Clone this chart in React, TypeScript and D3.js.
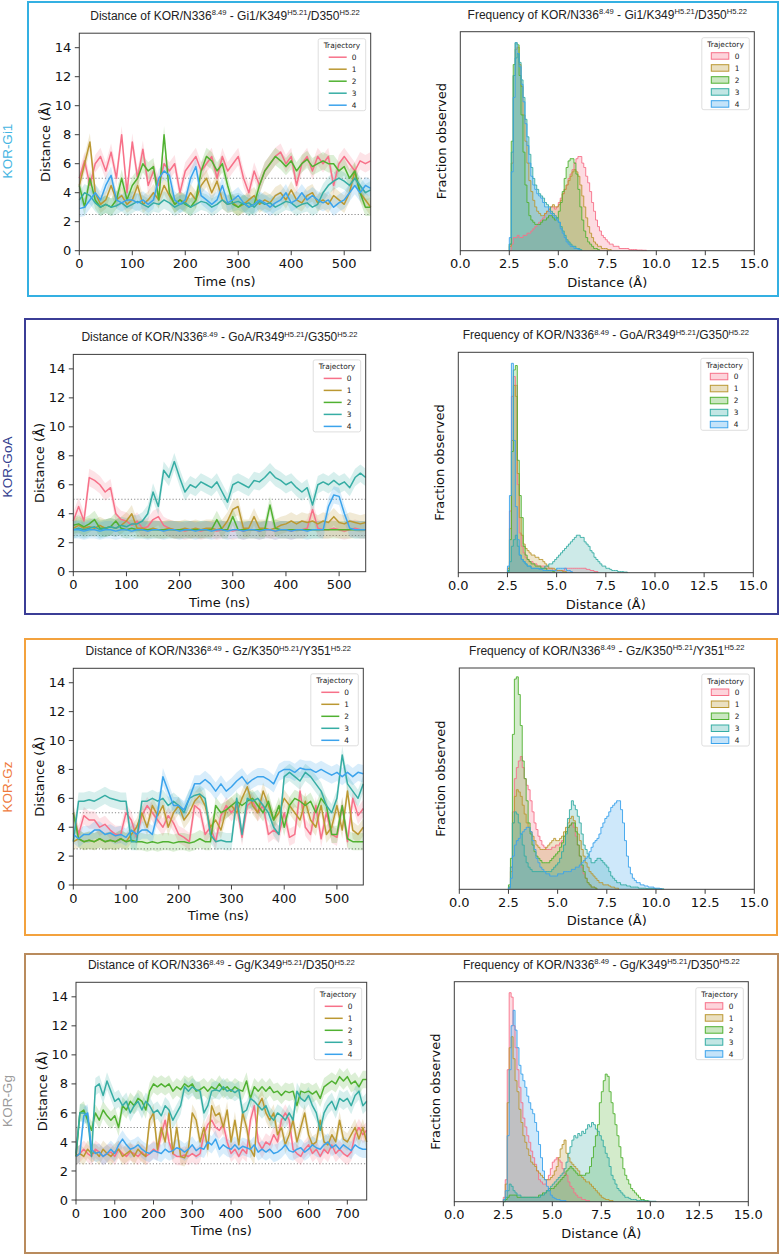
import React from 'react';
import * as d3 from 'd3';

// ---------------- shared categories / ticks ----------------
const TRAJECTORIES = ['0', '1', '2', '3', '4'];
const COLORS = ['#f77189', '#bb9832', '#50b131', '#36ada4', '#3ba3ec'];
const TIME_STEP = 10; // ns between samples
const HIST_START = 2.5; // Å, left edge of first bin
const HIST_BIN = 0.1; // Å bin width
const DIST_TICKS = [0, 2, 4, 6, 8, 10, 12, 14];
const HIST_TICKS = [0, 2.5, 5, 7.5, 10, 12.5, 15];
const TIME_TICKS_550 = [0, 100, 200, 300, 400, 500];
const TIME_TICKS_750 = [0, 100, 200, 300, 400, 500, 600, 700];
const REF_LINES = [2.5, 5.0];
const BAND = 0.6; // half-width of the confidence band (Å)

// ---------------- KOR-Gi1 ----------------
const GI1_TS = [
  [5.0,6.2,4.5,6.0,6.5,5.5,6.8,5.0,8.0,4.0, 7.5,5.0,7.0,4.5,5.5,4.5,6.0,5.5,6.0,4.0, 5.5,6.0,6.5,5.5,6.0,6.5,5.0,6.5,5.5,6.0, 6.5,5.0,4.0,5.5,4.5,5.5,6.0,6.5,6.8,6.0, 6.5,4.5,6.0,6.5,5.5,6.5,6.0,6.5,4.5,6.0, 6.5,6.0,5.5,6.2,6.0,6.2],
  [4.5,6.0,7.5,4.0,3.2,3.5,4.5,3.5,3.8,3.2, 3.5,4.5,3.2,3.5,4.0,3.5,4.5,3.8,3.2,3.5, 3.3,4.0,3.5,4.5,5.0,4.0,4.8,3.5,3.2,3.3, 3.0,3.2,3.5,3.8,3.2,3.5,3.3,3.8,4.0,3.5, 4.2,3.5,3.3,3.8,4.0,3.3,3.5,3.2,3.8,3.5, 3.2,4.0,5.5,4.0,3.5,3.0],
  [4.5,3.0,5.0,3.5,3.0,3.2,3.0,3.5,5.0,3.5, 4.5,5.0,6.0,5.5,5.8,3.5,8.0,4.0,3.2,3.5, 3.2,3.0,3.5,5.5,6.5,6.2,5.5,6.0,4.5,3.2, 3.0,3.3,3.0,3.2,4.5,5.5,6.0,6.5,6.2,5.8, 6.2,5.5,6.0,6.3,5.8,6.0,6.2,6.0,6.0,5.5, 5.8,5.0,5.5,4.0,3.0,3.0],
  [3.5,4.0,3.8,3.3,3.0,3.2,3.0,3.1,3.3,3.0, 3.2,3.4,3.2,3.0,3.3,3.2,3.5,3.3,3.0,3.2, 3.3,3.0,3.2,3.4,3.3,3.0,3.2,3.5,3.2,3.3, 3.4,3.2,3.3,3.0,3.4,3.2,3.3,3.0,3.2,3.4, 3.3,3.0,3.2,3.3,3.0,3.2,4.0,4.5,4.8,5.0, 4.8,4.5,5.0,4.5,4.0,4.2],
  [2.9,3.0,3.5,4.0,3.5,4.5,5.2,3.5,3.3,3.5, 3.5,3.3,3.5,3.2,3.5,5.0,5.5,5.2,3.5,3.2, 3.5,5.0,5.8,3.8,3.5,3.2,3.5,4.5,3.3,3.5, 3.8,3.3,3.0,3.2,3.5,3.3,3.0,3.3,3.5,4.0, 3.3,3.5,4.0,3.5,3.8,3.5,3.3,3.5,3.0,3.3, 3.5,4.0,4.5,4.0,4.5,4.3],
];
const GI1_HIST = [
  [0,3,6,6,7,6,6,7,7,8, 8,9,10,11,12,13,14,15,17,18, 19,20,20,19,20,22,24,26,28,30, 33,35,37,40,42,43,43,40,38,34, 31,27,22,18,14,11,9,7,6,5, 4,3,3,2,2,2,1,1,1,1, 1,0.5,0.5,0.5,0.5,0.3,0.3,0.3,0.2,0.2],
  [2,40,80,92,93,85,75,62,50,40, 32,27,23,20,18,17,16,16,17,18, 19,20,21,20,20,21,23,26,28,30, 32,34,36,37,36,34,30,25,20,15, 11,8,6,4,3,2,2,1,1,1, 0.5,0.5],
  [3,50,85,95,94,80,62,45,30,22, 16,14,13,12,12,12,13,14,14,15, 16,16,15,14,15,18,22,27,33,38, 41,42,42,40,35,28,20,14,9,6, 4,3,2,1,1,0.5],
  [3,45,80,88,90,86,78,70,60,52, 44,38,33,30,28,26,25,24,22,21, 20,18,17,16,15,13,11,9,7,5, 4,3,2,2,1,1,0.5],
  [6,36,70,95,90,84,76,68,58,48, 40,34,30,28,26,25,24,22,20,20, 18,17,16,15,14,13,10,8,6,4, 3,2,2,1,1,0.5],
];

// ---------------- KOR-GoA ----------------
const GOA_TS = [
  [3.5,4.5,3.5,6.5,6.3,6.0,5.5,5.8,4.0,3.6, 3.5,3.2,3.5,3.0,3.1,3.6,3.8,3.2,3.0,2.9, 2.9,2.8,2.9,2.9,2.8,2.9,2.9,2.8,2.9,2.9, 2.8,2.9,2.8,2.9,2.9,2.8,2.9,2.9,2.8,2.9, 2.9,2.8,2.9,2.9,3.0,4.3,3.0,2.9,2.9,3.0, 2.9,2.8,2.9,3.0,2.9,2.9],
  [3.0,3.2,3.0,3.1,3.0,3.2,3.0,3.1,3.0,3.2, 3.5,4.0,3.0,3.0,2.9,3.0,2.9,2.9,3.0,2.9, 2.9,3.0,2.9,3.0,2.9,3.0,3.0,2.9,3.0,3.5, 4.3,4.5,3.0,3.0,3.8,3.0,3.0,2.9,3.0,3.2, 3.3,3.5,3.3,3.5,3.4,3.5,3.3,3.5,3.4,3.8, 3.4,3.3,3.5,3.4,3.3,3.4],
  [3.2,3.3,3.1,3.3,3.6,3.0,3.0,3.1,3.5,3.0, 2.9,3.0,2.9,2.9,2.9,2.9,2.9,2.9,2.9,2.9, 2.9,2.9,2.9,2.9,2.9,2.9,2.9,3.6,2.9,2.9, 3.8,2.9,2.9,2.9,2.9,2.9,2.9,4.6,3.0,2.9, 2.9,2.9,2.9,2.9,2.9,2.9,2.9,2.9,2.9,2.9, 2.9,2.9,2.9,2.9,2.9,2.9],
  [2.9,3.0,2.9,3.0,3.1,2.9,3.0,3.1,3.0,3.2, 3.1,3.3,3.3,3.5,4.0,5.5,4.5,7.0,6.5,7.6, 6.5,5.5,6.0,5.8,6.2,6.0,5.8,6.2,5.5,4.8, 6.0,6.2,6.0,5.8,6.3,6.2,6.5,6.9,6.5,6.3, 6.0,6.2,5.8,5.5,5.8,4.6,6.0,6.2,6.0,6.3, 6.0,6.2,5.8,6.5,6.8,6.5],
  [2.9,2.9,2.8,2.9,2.9,2.8,2.9,2.9,2.8,2.9, 2.9,2.8,2.9,2.9,2.8,2.9,2.9,2.8,2.9,2.9, 2.8,2.9,2.9,2.8,2.9,2.9,2.8,2.9,2.9,2.8, 2.9,2.9,2.8,2.9,2.9,2.8,2.9,2.9,2.8,2.9, 2.9,2.8,2.9,2.9,2.8,2.9,2.9,2.9,4.5,5.3, 5.2,4.0,3.0,2.9,2.9,2.9],
];
const GOA_HIST = [
  [2,28,80,89,85,40,18,12,9,7, 6,5,5,4,4,3,3,3,3,2, 2,2,2,1,1,1,1,1,1,2, 2,2,2,2,2,2,2,2,2,2, 1.5,1.5,1,1,0.5,0.5],
  [2,20,60,85,80,45,25,17,13,11, 10,9,8,8,7,7,6,6,5,4, 3,2,2,2,1.5,1,1,1,0.5,0.5],
  [1,15,55,92,94,51,35,25,12,8, 6,5,4,4,3,3,3,2,2,2, 1,1,1,0.5],
  [0.5,5,12,15,17,12,8,6,5,4, 3,3,2,2,2,2,2,2,2,3, 3,4,4,5,6,7,8,9,10,11, 12,13,14,15,16,17,17,16,16,14, 13,12,10,9,7,6,5,4,3,3, 2,2,1.5,1,1,1,0.5,0.5,0.5,0.3, 0.3],
  [3,35,95,60,30,15,8,6,5,4, 3,3,2,2,2,2,1.5,1.5,1,1, 1,1,1,1,1,2,2,2,2,2, 1,1,0.5],
];

// ---------------- KOR-Gz ----------------
const GZ_TS = [
  [5.0,3.5,4.8,4.5,4.5,4.0,4.2,3.8,3.5,3.5, 5.0,4.5,3.3,4.8,5.5,5.0,4.5,4.0,4.8,4.3, 3.5,3.3,3.0,5.5,5.2,3.5,4.0,3.0,4.8,5.5, 5.0,5.5,3.3,5.5,5.8,5.0,5.5,3.5,3.8,3.5, 5.0,3.3,3.5,6.5,4.0,3.5,5.5,3.2,5.0,3.5, 3.3,5.5,3.0,6.0,4.8,5.3],
  [3.0,3.2,3.0,3.1,3.0,3.2,3.0,3.1,3.0,3.2, 3.0,3.5,4.0,5.0,4.0,5.5,4.8,5.5,4.0,5.0, 5.5,4.5,5.0,5.8,6.2,5.5,4.0,4.5,3.8,5.2, 5.5,5.0,6.0,6.8,5.5,5.0,6.5,5.5,4.5,5.0, 6.0,5.5,5.0,4.5,5.8,4.5,4.0,5.5,3.5,4.0, 5.5,3.8,6.5,3.8,3.5,4.0],
  [5.0,3.2,3.0,3.1,3.0,3.2,3.0,3.1,3.0,3.2, 3.0,3.1,3.0,3.0,2.9,3.0,2.9,3.0,3.0,2.9, 3.0,3.0,2.9,3.0,3.2,3.0,3.0,5.5,5.0,5.2, 5.5,5.8,5.5,5.8,6.0,5.5,5.0,5.8,4.5,5.5, 4.0,5.5,6.0,5.8,5.5,5.8,5.0,6.0,5.5,3.5, 3.5,5.5,3.2,3.0,3.0,3.0],
  [3.0,5.8,5.8,5.9,5.8,6.0,6.2,6.0,5.9,5.8, 5.8,3.0,3.0,5.8,5.8,6.0,5.8,6.0,5.5,5.8, 5.5,5.0,6.0,6.2,6.3,6.0,3.5,3.0,3.1,3.0, 3.0,6.0,3.5,6.0,5.8,6.0,5.5,5.0,4.0,3.5, 7.5,7.8,7.5,7.2,7.8,7.5,7.0,6.5,5.5,5.0, 6.0,9.0,7.0,6.5,6.0,7.0],
  [3.5,3.2,3.5,3.5,3.8,3.8,3.5,3.6,3.4,3.5, 3.3,3.8,3.5,3.8,3.8,3.5,5.0,7.5,6.5,5.5, 5.5,5.2,6.0,7.0,7.0,7.3,7.0,6.5,7.0,6.5, 6.8,7.2,7.5,7.0,7.3,7.5,7.5,7.3,7.0,7.8, 8.0,8.0,7.8,8.1,8.0,8.0,7.8,8.0,7.8,7.6, 7.8,7.5,7.8,7.5,7.8,7.7],
];
const GZ_HIST = [
  [1,10,35,50,55,58,60,55,50,47, 45,40,35,30,27,24,22,20,19,18, 18,18,19,19,20,20,21,22,24,26, 28,29,30,28,24,20,15,10,7,5, 3,2,1,1,0.5],
  [1,8,30,42,45,44,42,38,34,30, 28,26,24,22,20,19,18,18,18,19, 20,21,22,23,22,22,23,24,26,28, 30,32,33,31,28,25,22,18,15,12, 10,8,7,6,5,4,3,3,2,2, 2,1.5,1,1,0.5,0.5],
  [2,14,70,95,96,88,74,58,50,40, 30,25,20,17,15,14,13,12,12,12, 12,13,14,15,16,17,19,21,24,26, 28,29,30,30,26,20,15,11,8,5, 3,2,1,1,0.5],
  [1,10,30,35,34,30,25,20,15,12, 10,9,8,8,8,8,8,8,8,8, 8,8,9,10,11,12,14,17,20,25, 32,36,40,38,36,33,30,25,20,18, 16,14,12,12,13,14,14,13,12,11, 10,8,6,5,4,3,3,2,2,2, 1.5,1.5,1,1,1,1,0.5,0.5,0.5,0.5, 0.3,0.3,0.3,0.3,0.3,0.2,0.2,0.2,0.2],
  [0.5,5,15,20,22,23,25,26,27,28, 28,26,22,18,14,12,10,9,8,7, 7,6,6,6,6,7,7,7,8,8, 8,8,9,9,10,10,11,12,13,14, 15,17,19,21,22,23,25,28,30,32, 33,35,37,38,39,40,40,36,30,22, 15,10,7,5,4,3,3,2,2,1.5, 1.5,1,1,1,0.5,0.5,0.5,0.3],
];

// ---------------- KOR-Gg ----------------
const GG_TS = [
  [3.0,3.2,3.5,3.2,3.0,3.5,3.3,3.0,3.2,3.3, 3.0,3.5,3.2,3.0,3.3,3.2,3.0,3.3,3.0,3.2, 3.5,3.3,4.5,5.5,4.0,3.2,3.0,3.0,3.1,3.0, 3.2,3.0,3.2,4.5,5.2,5.5,5.0,4.8,5.2,4.0, 3.2,3.5,3.0,3.5,3.2,5.5,6.5,4.0,3.5,4.0, 3.8,4.5,4.0,5.5,6.0,5.5,3.5,3.2,3.0,3.5, 3.8,3.2,3.5,3.0,3.5,3.2,3.8,3.2,3.5,3.2, 3.0,3.3,4.5,5.0,4.5,4.8],
  [3.0,3.2,3.0,3.5,3.2,3.3,3.0,3.5,3.2,3.0, 3.3,3.5,3.0,3.2,3.4,3.0,3.5,3.2,3.0,5.5, 6.0,3.5,5.0,4.0,6.0,3.2,5.0,3.0,2.9,3.5, 6.0,5.5,4.0,5.0,3.5,6.5,5.8,6.0,5.0,6.2, 4.0,5.5,3.8,6.0,5.0,3.5,3.0,6.5,7.0,6.0, 5.5,6.0,4.5,5.0,3.8,4.5,5.5,4.0,5.0,6.0, 4.5,3.8,4.0,5.5,4.0,3.8,4.5,4.0,5.5,4.2, 4.0,4.5,5.0,4.2,5.0,4.0],
  [3.0,6.0,6.2,5.5,4.8,6.0,5.5,6.2,5.8,5.5, 5.8,5.0,6.5,6.2,6.8,6.5,7.0,6.8,6.2,7.5, 8.0,7.8,8.0,7.8,8.0,7.5,7.8,7.6,8.0,7.8, 8.0,7.5,7.6,7.8,7.5,7.8,7.6,8.0,7.6,7.8, 7.5,7.8,7.6,7.5,8.2,7.0,7.8,7.5,7.8,7.5, 7.8,7.4,7.5,7.2,7.5,7.4,7.5,6.5,7.5,7.4, 7.5,7.3,7.5,7.0,7.8,8.0,8.2,8.0,8.5,8.2, 8.5,8.0,8.2,7.8,8.3,8.3],
  [3.2,6.0,6.0,5.8,3.0,7.8,8.0,7.2,8.2,7.5, 6.8,7.0,6.5,6.8,6.0,6.5,6.8,6.2,6.8,6.5, 6.0,6.2,5.8,6.5,6.2,5.5,6.0,6.5,7.8,7.5, 7.8,7.6,7.5,6.0,6.5,7.5,7.6,7.5,7.8,7.5, 7.6,7.4,7.6,6.0,6.2,7.0,6.8,6.5,6.2,6.5, 5.8,5.5,6.0,5.8,5.5,6.0,5.5,7.5,7.0,6.8, 7.2,6.5,6.0,4.8,6.0,6.5,6.8,6.2,7.0,6.8, 7.0,6.5,7.2,7.5,6.5,6.8],
  [3.0,3.2,5.8,6.0,3.5,3.2,3.3,3.0,3.2,3.5, 3.2,3.8,4.2,3.8,3.5,3.6,3.8,3.5,3.3,3.2, 3.4,3.3,3.2,3.5,3.3,3.4,3.6,3.5,3.3,3.5, 3.8,3.4,3.6,3.5,4.0,3.8,4.2,3.5,3.8,3.6, 3.5,3.8,3.5,3.7,3.6,3.5,3.8,3.3,3.5,3.3, 3.5,3.2,3.3,3.5,3.8,3.4,3.3,3.5,3.6,3.3, 3.5,3.8,3.6,3.5,3.8,4.0,3.6,3.8,3.5,3.8, 3.6,3.4,3.8,3.6,3.5,3.5],
];
const GG_HIST = [
  [2,10,60,95,93,80,70,60,52,45, 38,34,30,27,23,20,17,14,10,9, 8,8,10,12,15,18,19,20,19,18, 15,13,12,9,7,6,4,3,2,2, 1,1,0.5,0.5],
  [1,8,45,70,75,65,55,50,42,36, 30,27,24,21,18,17,16,14,13,12, 11,10,10,10,11,12,14,16,20,24, 26,28,22,20,18,17,16,15,14,12, 11,10,9,9,8,7,6,5,4,3, 2,1.5,1,1,0.5,0.5],
  [0,1,2,3,3,3,3,2,2,2, 2,2,2,2,2,2,2,2,3,3, 4,4,5,5,6,6,7,8,9,10, 11,12,14,15,16,15,14,13,12,12, 12,12,13,13,16,20,25,30,35,45, 50,55,58,57,50,45,40,35,30,25, 20,15,12,10,8,6,5,4,3,2, 1,1,0.5,0.5],
  [0,2,5,8,7,5,4,3,3,2, 2,2,2,2,2,2,2,2,2,3, 3,4,5,6,7,8,9,10,11,12, 13,15,18,22,25,28,30,29,31,30, 32,31,33,35,34,36,35,33,32,30, 28,25,22,20,16,12,10,8,6,5, 4,3,2,2,1.5,1,1,1,0.5,0.5, 0.5,0.5,0.3,0.3,0.3,0.2,0.2,0.2],
  [1,5,30,60,80,87,78,70,62,58, 55,52,48,45,42,40,36,32,26,20, 14,10,7,5,3,2,1.5,1,1,0.5, 0.5,0.5],
];

// ---------------- titles ----------------
type Part = { t: string; sup?: boolean };
const mkTitle = (prefix: string, g: string, r1: string, r2: string): Part[] => [
  { t: `${prefix} of KOR/N336` }, { t: '8.49', sup: true },
  { t: ` - ${g}/${r1}` }, { t: 'H5.21', sup: true },
  { t: `/${r2}` }, { t: 'H5.22', sup: true },
];

const PANELS = [
  { label: 'KOR-Gi1', labelColor: '#45b5e2', boxColor: '#34b0e2', ts: GI1_TS, hist: GI1_HIST, tMax: 550, tTicks: TIME_TICKS_550, g: 'Gi1', r1: 'K349', r2: 'D350' },
  { label: 'KOR-GoA', labelColor: '#33408f', boxColor: '#3b3d96', ts: GOA_TS, hist: GOA_HIST, tMax: 550, tTicks: TIME_TICKS_550, g: 'GoA', r1: 'R349', r2: 'G350' },
  { label: 'KOR-Gz', labelColor: '#ef7a3d', boxColor: '#f3a23e', ts: GZ_TS, hist: GZ_HIST, tMax: 550, tTicks: TIME_TICKS_550, g: 'Gz', r1: 'K350', r2: 'Y351' },
  { label: 'KOR-Gg', labelColor: '#9b9b9b', boxColor: '#b98b5d', ts: GG_TS, hist: GG_HIST, tMax: 750, tTicks: TIME_TICKS_750, g: 'Gg', r1: 'K349', r2: 'D350' },
];

// ---------------- layout (pixels) ----------------
const LAYOUT = [
  { box: { x: 28, y: 2, w: 750, h: 294 }, labelY: 151, line: { l: 79.3, r: 370.7, t: 33.2, b: 250.7 }, hist: { l: 460.3, r: 754.3, t: 31.7, b: 250.7 } },
  { box: { x: 25, y: 319, w: 753, h: 295 }, labelY: 467, line: { l: 73.3, r: 365.7, t: 354.4, b: 571.7 }, hist: { l: 458.3, r: 753.3, t: 352.3, b: 572.7 } },
  { box: { x: 25, y: 639, w: 752, h: 296 }, labelY: 787, line: { l: 73.3, r: 363.3, t: 668.3, b: 885 }, hist: { l: 459.3, r: 754.3, t: 668, b: 889.3 } },
  { box: { x: 25, y: 954, w: 753, h: 299 }, labelY: 1101, line: { l: 76, r: 366.7, t: 982.3, b: 1200 }, hist: { l: 454.3, r: 748.3, t: 981.7, b: 1201.7 } },
];

const TICK_FONT = 'DejaVu Sans, sans-serif';
const TITLE_FONT = 'Liberation Sans, Arial, sans-serif';
const SPINE = '#3d3d3d';

function Title({ parts, x, y }: { parts: Part[]; x: number; y: number }) {
  let shift = 0;
  const spans = parts.map((p, i) => {
    const target = p.sup ? -4.8 : 0;
    const dy = target - shift;
    shift = target;
    return (
      <tspan key={i} dy={dy} fontSize={p.sup ? 7.6 : 12}>{p.t}</tspan>
    );
  });
  return (
    <text x={x} y={y} textAnchor="middle" fontFamily={TITLE_FONT} fill="#222">{spans}</text>
  );
}

type Rect = { l: number; r: number; t: number; b: number };

function LineChart({ g, series, tMax, tTicks, title }: { g: Rect; series: number[][]; tMax: number; tTicks: number[]; title: Part[] }) {
  const x = d3.scaleLinear().domain([0, tMax]).range([g.l, g.r]);
  const y = d3.scaleLinear().domain([0, 15]).range([g.b, g.t]);
  const line = d3.line<number>().x((_, i) => x(i * TIME_STEP)).y((d) => y(d));
  const band = d3.area<number>().x((_, i) => x(i * TIME_STEP)).y0((d) => y(d - BAND)).y1((d) => y(d + BAND));
  const lg = { x: g.r - 5 - 47.5, y: g.t + 5.5, w: 47.5, h: 72 };
  return (
    <g>
      <Title parts={title} x={(g.l + g.r) / 2} y={g.t - 13} />
      {REF_LINES.map((v) => (
        <line key={v} x1={g.l} x2={g.r} y1={y(v)} y2={y(v)} stroke="#8a8a8a" strokeWidth={1.1} strokeDasharray="1.2,2" />
      ))}
      {series.map((s, i) => (
        <path key={'b' + i} d={band(s) || ''} fill={COLORS[i]} fillOpacity={0.2} stroke="none" />
      ))}
      {series.map((s, i) => (
        <path key={'l' + i} d={line(s) || ''} fill="none" stroke={COLORS[i]} strokeWidth={1.5} strokeLinejoin="round" />
      ))}
      <rect x={g.l} y={g.t} width={g.r - g.l} height={g.b - g.t} fill="none" stroke={SPINE} strokeWidth={1} />
      {DIST_TICKS.map((v) => (
        <g key={v}>
          <line x1={g.l - 4.5} x2={g.l} y1={y(v)} y2={y(v)} stroke={SPINE} />
          <text x={g.l - 8} y={y(v) + 4.6} textAnchor="end" fontSize={13} fontFamily={TICK_FONT} fill="#111">{v}</text>
        </g>
      ))}
      {tTicks.map((v) => (
        <g key={v}>
          <line x1={x(v)} x2={x(v)} y1={g.b} y2={g.b + 4.5} stroke={SPINE} />
          <text x={x(v)} y={g.b + 17.5} textAnchor="middle" fontSize={13} fontFamily={TICK_FONT} fill="#111">{v}</text>
        </g>
      ))}
      <text x={(g.l + g.r) / 2} y={g.b + 35} textAnchor="middle" fontSize={13} fontFamily={TICK_FONT} fill="#111">Time (ns)</text>
      <text transform={`translate(${g.l - 29.5},${(g.t + g.b) / 2}) rotate(-90)`} textAnchor="middle" fontSize={13} fontFamily={TICK_FONT} fill="#111">Distance (Å)</text>
      <g>
        <rect x={lg.x} y={lg.y} width={lg.w} height={lg.h} rx={2} fill="#fff" fillOpacity={0.85} stroke="#d6d6d6" strokeWidth={0.8} />
        <text x={lg.x + lg.w / 2} y={lg.y + 9.5} textAnchor="middle" fontSize={7.4} fontFamily={TICK_FONT} fill="#222">Trajectory</text>
        {TRAJECTORIES.map((t, i) => (
          <g key={t}>
            <line x1={lg.x + 10.5} x2={lg.x + 28.5} y1={lg.y + 18.5 + 12 * i} y2={lg.y + 18.5 + 12 * i} stroke={COLORS[i]} strokeWidth={1.5} />
            <text x={lg.x + 33.5} y={lg.y + 21 + 12 * i} fontSize={7.4} fontFamily={TICK_FONT} fill="#222">{t}</text>
          </g>
        ))}
      </g>
    </g>
  );
}

function HistChart({ g, hists, title }: { g: Rect; hists: number[][]; title: Part[] }) {
  const x = d3.scaleLinear().domain([0, 15]).range([g.l, g.r]);
  const y = d3.scaleLinear().domain([0, 100]).range([g.b, g.t]);
  const toPts = (h: number[]): [number, number][] => [
    [HIST_START, 0],
    ...h.map((v, i) => [HIST_START + i * HIST_BIN, v] as [number, number]),
    [HIST_START + h.length * HIST_BIN, 0],
  ];
  const area = d3.area<[number, number]>().curve(d3.curveStepAfter).x((p) => x(p[0])).y0(y(0)).y1((p) => y(p[1]));
  const line = d3.line<[number, number]>().curve(d3.curveStepAfter).x((p) => x(p[0])).y((p) => y(p[1]));
  const lg = { x: g.r - 5 - 47.5, y: g.t + 6, w: 47.5, h: 72 };
  return (
    <g>
      <Title parts={title} x={(g.l + g.r) / 2} y={g.t - 13} />
      {hists.map((h, i) => (
        <path key={'a' + i} d={area(toPts(h)) || ''} fill={COLORS[i]} fillOpacity={0.25} stroke="none" />
      ))}
      {hists.map((h, i) => (
        <path key={'s' + i} d={line(toPts(h)) || ''} fill="none" stroke={COLORS[i]} strokeOpacity={0.9} strokeWidth={1} />
      ))}
      <rect x={g.l} y={g.t} width={g.r - g.l} height={g.b - g.t} fill="none" stroke={SPINE} strokeWidth={1} />
      {HIST_TICKS.map((v) => (
        <g key={v}>
          <line x1={x(v)} x2={x(v)} y1={g.b} y2={g.b + 4.5} stroke={SPINE} />
          <text x={x(v)} y={g.b + 17.5} textAnchor="middle" fontSize={13} fontFamily={TICK_FONT} fill="#111">{v.toFixed(1)}</text>
        </g>
      ))}
      <text x={(g.l + g.r) / 2} y={g.b + 36} textAnchor="middle" fontSize={13} fontFamily={TICK_FONT} fill="#111">Distance (Å)</text>
      <text transform={`translate(${g.l - 14},${(g.t + g.b) / 2}) rotate(-90)`} textAnchor="middle" fontSize={13} fontFamily={TICK_FONT} fill="#111">Fraction observed</text>
      <g>
        <rect x={lg.x} y={lg.y} width={lg.w} height={lg.h} rx={2} fill="#fff" fillOpacity={0.85} stroke="#d6d6d6" strokeWidth={0.8} />
        <text x={lg.x + lg.w / 2} y={lg.y + 9.5} textAnchor="middle" fontSize={7.4} fontFamily={TICK_FONT} fill="#222">Trajectory</text>
        {TRAJECTORIES.map((t, i) => (
          <g key={t}>
            <rect x={lg.x + 9.5} y={lg.y + 15 + 12 * i} width={17.5} height={6.5} fill={COLORS[i]} fillOpacity={0.3} stroke={COLORS[i]} strokeWidth={1} />
            <text x={lg.x + 33} y={lg.y + 21 + 12 * i} fontSize={7.4} fontFamily={TICK_FONT} fill="#222">{t}</text>
          </g>
        ))}
      </g>
    </g>
  );
}

export default function App() {
  return (
    <svg width={781} height={1256} style={{ position: 'absolute', left: 0, top: 0, background: '#fff' }} xmlns="http://www.w3.org/2000/svg">
      <rect x={0} y={0} width={781} height={1256} fill="#fff" />
      {PANELS.map((p, k) => {
        const L = LAYOUT[k];
        return (
          <g key={p.label}>
            <rect x={L.box.x} y={L.box.y} width={L.box.w} height={L.box.h} fill="none" stroke={p.boxColor} strokeWidth={2} />
            <text transform={`translate(${12},${L.labelY}) rotate(-90)`} textAnchor="middle" fontSize={13.5} fontFamily={TITLE_FONT} fill={p.labelColor}>{p.label}</text>
            <LineChart g={L.line} series={p.ts} tMax={p.tMax} tTicks={p.tTicks} title={mkTitle('Distance', p.g, p.r1, p.r2)} />
            <HistChart g={L.hist} hists={p.hist} title={mkTitle('Frequency', p.g, p.r1, p.r2)} />
          </g>
        );
      })}
    </svg>
  );
}
